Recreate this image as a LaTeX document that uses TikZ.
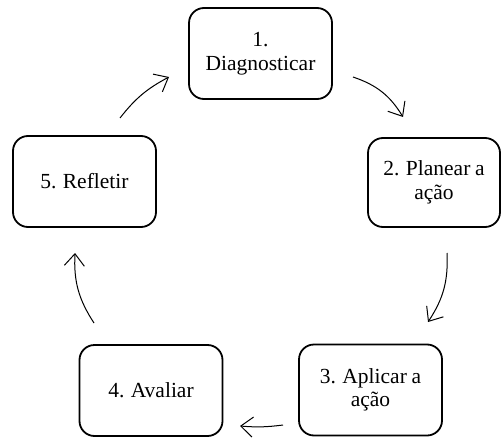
\documentclass[tikz,border=0pt]{standalone}
\usepackage{fontspec}
\setmainfont[WordSpace=0.85]{Liberation Serif}
\usetikzlibrary{arrows.meta}
\begin{document}
\begin{tikzpicture}[x=1pt,y=-1pt,
  stepbox/.style={draw, line width=1.8pt, rounded corners=15pt, align=center,
    font=\fontsize{21.5}{23.5}\selectfont, inner sep=0pt,
    minimum width=143pt, minimum height=91pt},
  flow/.style={line width=1pt, -{Straight Barb[length=12pt,width=20pt]}}]
\useasboundingbox (0,0) rectangle (502,438);
\node[stepbox] (n1) at (260.5,53.5) {1.\\Diagnosticar};
\node[stepbox, minimum width=132pt, minimum height=89pt] (n2) at (434,182.5) {2. Planear a\\ação};
\node[stepbox] (n3) at (370.5,390) {3. Aplicar a\\ação};
\node[stepbox] (n4) at (151,390.5) {4. Avaliar};
\node[stepbox] (n5) at (84.5,181.5) {5. Refletir};
\coordinate (a1s) at (353,77);  \coordinate (a1e) at (403,117);
\coordinate (a2s) at (447,253); \coordinate (a2e) at (428,322);
\coordinate (a3s) at (283,425); \coordinate (a3e) at (240,426);
\coordinate (a4s) at (94,323);  \coordinate (a4e) at (75,253);
\coordinate (a5s) at (120,118); \coordinate (a5e) at (169,77);
\draw[flow] (a1s) to[bend left=20] (a1e);
\draw[flow] (a2s) to[bend left=18] (a2e);
\draw[flow] (a3s) to[bend left=6] (a3e);
\draw[flow] (a4s) to[bend left=18] (a4e);
\draw[flow] (a5s) to[bend left=12] (a5e);
\end{tikzpicture}
\end{document}
